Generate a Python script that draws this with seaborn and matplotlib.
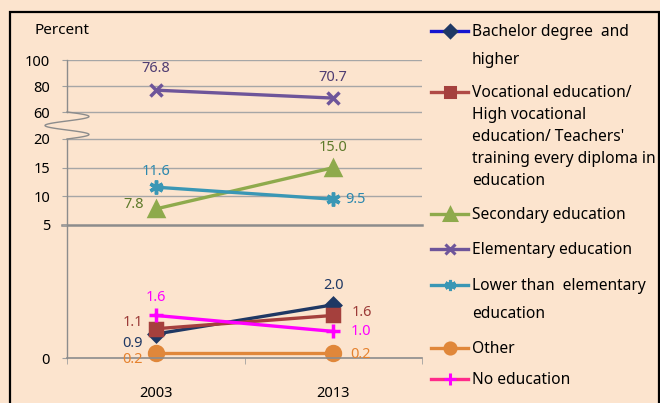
import numpy as np
import pandas as pd
import matplotlib
matplotlib.use("Agg")
import matplotlib.pyplot as plt
from matplotlib.lines import Line2D
from matplotlib.patches import Rectangle
import seaborn as sns

# data
years = ["2003", "2013"]
bachelor = [0.9, 2.0]
vocational = [1.1, 1.6]
secondary = [7.8, 15.0]
elementary = [76.8, 70.7]
lower_elem = [11.6, 9.5]
other = [0.2, 0.2]
no_edu = [1.6, 1.0]

series_names = ["Bachelor", "Vocational", "Secondary", "Elementary",
                "Lower", "Other", "No education"]
series_values = [bachelor, vocational, secondary, elementary,
                 lower_elem, other, no_edu]

legend_lines = [
    ["Bachelor degree  and", "higher"],
    ["Vocational education/", "High vocational", "education/ Teachers'",
     "training every diploma in", "education"],
    ["Secondary education"],
    ["Elementary education"],
    ["Lower than  elementary", "education"],
    ["Other"],
    ["No education"],
]

line_colors = ["#1F3864", "#A5403D", "#8EAA4C", "#6E559A",
               "#3A97B5", "#E0873A", "#FF00FF"]
label_colors = ["#1F3864", "#9C3B38", "#5E7A2B", "#4F3D72",
                "#2C88AE", "#E5822F", "#FF00FF"]
legend_colors = ["#1515D0", "#B04A46", "#8EAA4C", "#6E559A",
                 "#3A97B5", "#E0873A", "#FF2A8A"]
markers = ["D", "s", "^", "x", (6, 2, 0), "o", "+"]
marker_sizes = [7, 9, 10, 9, 10, 10, 10]
legend_sizes = [6, 7, 8, 7, 8, 8, 8]

# label offsets in pixels (2003, 2013) and alignment
label_pos = [
    [((-13, -9), "right"), ((0, 19), "center")],
    [((-13, 6), "right"), ((18, 3), "left")],
    [((-12, 4), "right"), ((0, 20), "center")],
    [((0, 22), "center"), ((0, 21), "center")],
    [((0, 16), "center"), ((12, 0), "left")],
    [((-13, -7), "right"), ((17, -2), "left")],
    [((0, 18), "center"), ((17, 0), "left")],
]

rows = []
for name, vals in zip(series_names, series_values):
    for y, v in zip(years, vals):
        rows.append({"Year": y, "Value": v, "Series": name})
df = pd.DataFrame(rows)

bg = "#FCE4CE"
W, H = 660, 403
fig = plt.figure(figsize=(6.6, 4.03), dpi=100, facecolor=bg)
plt.rcParams["font.family"] = ["Noto Sans", "DejaVu Sans"]

ax = fig.add_axes([67 / W, 1 - 358 / H, 355 / W, 298 / H])
ax.set_facecolor(bg)

for name, c, m, ms in zip(series_names, line_colors, markers, marker_sizes):
    sub = df[df["Series"] == name]
    sns.lineplot(data=sub, x="Year", y="Value", color=c, marker=m,
                 markersize=ms, mec=c, mfc=c, mew=2.5, linewidth=2.4,
                 ax=ax, sort=False, clip_on=False)

# broken y scale: 0-5 tall, 5-20 compressed, gap, 60-100 compressed
brk_v = [0, 5, 20, 60, 100]
brk_p = [0, 133, 219, 246, 298]


def fwd(v):
    return np.interp(v, brk_v, brk_p)


def inv(p):
    return np.interp(p, brk_p, brk_v)


ax.set_yscale("function", functions=(fwd, inv))
ax.set_ylim(0, 100)
ax.set_xlim(-0.5, 1.5)

yt = [0, 5, 10, 15, 20, 60, 80, 100]
ax.set_yticks(yt)
ax.set_yticklabels([str(t) for t in yt], fontsize=10.5)
for lab in ax.get_yticklabels():
    if lab.get_text() == "5":
        lab.set_fontweight("bold")
ax.minorticks_off()
ax.tick_params(axis="y", length=3.6, color="#A0A0A0", pad=8.6)
for t in [10, 15, 20, 60, 80, 100]:
    ax.axhline(t, color="#A6A6A6", lw=1, zorder=0)
ax.axhline(5, xmin=-5 / 355, color="#8C8C8C", lw=1.8, zorder=0, clip_on=False)

ax.set_xticks([0, 1])
ax.set_xticklabels(years, fontsize=10.5)
ax.tick_params(axis="x", length=0, pad=20)
ax.set_xticks([-0.5, 0.5, 1.5], minor=True)
ax.tick_params(axis="x", which="minor", length=4, color="#A0A0A0")
ax.set_xlabel("")
ax.set_ylabel("")

for s in ["top", "right", "left"]:
    ax.spines[s].set_visible(False)
ax.spines["bottom"].set_color("#8C8C8C")
ax.spines["bottom"].set_linewidth(1.2)

# y axis line with a squiggle in the 20-60 gap
ytr = ax.get_yaxis_transform()
ax.plot([0, 0], [60, 100], color="#8C8C8C", lw=1, transform=ytr, clip_on=False)
ax.plot([0, 0], [0, 20], color="#8C8C8C", lw=1, transform=ytr, clip_on=False)
t = np.linspace(0, 1, 80)
ax.plot(0.062 * np.sin(3 * np.pi * t), 60 - 40 * t, color="#8C8C8C", lw=1,
        transform=ytr, clip_on=False)

# value labels
for vals, lc, pos in zip(series_values, label_colors, label_pos):
    for i, v in enumerate(vals):
        off, ha = pos[i]
        ax.annotate(f"{v:.1f}", xy=(i, v), xytext=off, textcoords="offset pixels",
                    ha=ha, va="center", fontsize=10.5, color=lc)

fig.text(34 / W, 1 - 31 / H, "Percent", fontsize=11, va="center", ha="left")

# legend drawn at the right side
legend_y = [31, 92, 214, 249, 285, 348, 379]
line_gap = [28, 22, 0, 0, 28, 0, 0]
for lines, y0, gap, lc, c, m, ms in zip(legend_lines, legend_y, line_gap,
                                         legend_colors, line_colors, markers,
                                         legend_sizes):
    fy = 1 - y0 / H
    fig.add_artist(Line2D([431 / W, 468 / W], [fy, fy], color=lc, lw=2.4,
                          transform=fig.transFigure))
    fig.add_artist(Line2D([449.5 / W], [fy], marker=m, color=c, mec=c, mfc=c,
                          markersize=ms, mew=2.2, transform=fig.transFigure))
    for k, txt in enumerate(lines):
        fig.text(472 / W, 1 - (y0 + 1 + k * gap) / H, txt, fontsize=11.2,
                 va="center", ha="left")

fig.add_artist(Rectangle((9.5 / W, -0.1), 649.5 / W, 1.1 - 12.5 / H,
                         fill=False, ec="black", lw=1.6,
                         transform=fig.transFigure))

fig.savefig("out.png", dpi=100, facecolor=bg)
